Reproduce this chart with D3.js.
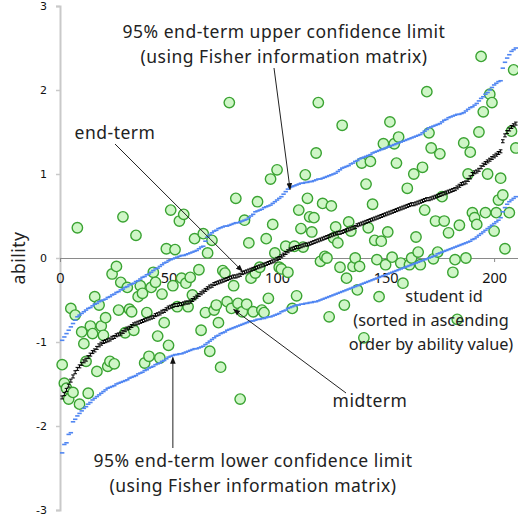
<!DOCTYPE html>
<html>
<head>
<meta charset="utf-8">
<script src="https://cdn.jsdelivr.net/npm/d3@7"></script>
<style>
  html, body { margin: 0; padding: 0; background: #fff; }
  svg { display: block; }
  .ann { font-family: "Noto Sans", "Open Sans", sans-serif; font-size: 17.5px; letter-spacing: 0.5px; fill: #222; }
  .xtitle { font-family: "Noto Sans", "Open Sans", sans-serif; font-size: 16.3px; fill: #222; }
</style>
</head>
<body>
<svg id="chart" width="518" height="524"></svg>
<script>
// Ability estimates per student, students sorted by end-term ability (id 1..210)
const endterm = [
  -1.66,-1.62,-1.57,-1.52,-1.46,-1.41,-1.36,-1.32,-1.29,-1.26,
  -1.23,-1.21,-1.18,-1.15,-1.12,-1.10,-1.07,-1.04,-1.02,-1.00,
  -0.99,-0.98,-0.97,-0.95,-0.94,-0.92,-0.91,-0.90,-0.88,-0.86,
  -0.84,-0.83,-0.81,-0.79,-0.78,-0.77,-0.76,-0.75,-0.74,-0.73,
  -0.72,-0.71,-0.70,-0.68,-0.67,-0.66,-0.64,-0.63,-0.61,-0.59,
  -0.58,-0.57,-0.56,-0.56,-0.55,-0.55,-0.54,-0.53,-0.53,-0.52,
  -0.50,-0.48,-0.46,-0.44,-0.42,-0.40,-0.38,-0.36,-0.34,-0.33,
  -0.31,-0.30,-0.29,-0.28,-0.27,-0.26,-0.25,-0.24,-0.23,-0.22,
  -0.22,-0.21,-0.20,-0.18,-0.17,-0.16,-0.15,-0.14,-0.13,-0.12,
  -0.11,-0.10,-0.09,-0.08,-0.07,-0.06,-0.05,-0.04,-0.03,-0.01,
  0.00,0.02,0.04,0.06,0.08,0.10,0.11,0.12,0.13,0.13,
  0.14,0.15,0.16,0.16,0.17,0.18,0.19,0.20,0.21,0.22,
  0.23,0.24,0.25,0.26,0.27,0.28,0.29,0.30,0.30,0.31,
  0.32,0.33,0.34,0.35,0.36,0.37,0.39,0.40,0.41,0.42,
  0.43,0.44,0.45,0.46,0.47,0.48,0.49,0.50,0.51,0.52,
  0.53,0.54,0.55,0.56,0.57,0.58,0.59,0.60,0.61,0.62,
  0.63,0.64,0.64,0.65,0.66,0.67,0.68,0.69,0.70,0.70,
  0.71,0.72,0.73,0.74,0.75,0.76,0.77,0.78,0.79,0.80,
  0.81,0.82,0.84,0.86,0.88,0.89,0.90,0.93,0.96,1.00,
  1.02,1.03,1.05,1.08,1.11,1.13,1.15,1.17,1.19,1.21,
  1.23,1.25,1.27,1.39,1.46,1.50,1.53,1.56,1.58,1.60
];

// 95% upper confidence limit of the end-term estimate (Fisher information)
const upper = [
  -0.98,-0.94,-0.90,-0.86,-0.82,-0.78,-0.74,-0.70,-0.68,-0.66,
  -0.64,-0.62,-0.60,-0.59,-0.57,-0.55,-0.54,-0.52,-0.51,-0.50,
  -0.49,-0.47,-0.46,-0.44,-0.43,-0.41,-0.40,-0.38,-0.37,-0.35,
  -0.34,-0.32,-0.31,-0.30,-0.28,-0.27,-0.25,-0.23,-0.22,-0.20,
  -0.19,-0.17,-0.15,-0.13,-0.12,-0.10,-0.08,-0.06,-0.05,-0.03,
  -0.02,-0.01,0.00,0.01,0.02,0.03,0.03,0.04,0.05,0.06,
  0.07,0.08,0.09,0.11,0.13,0.14,0.20,0.25,0.28,0.30,
  0.32,0.33,0.35,0.36,0.37,0.38,0.38,0.39,0.40,0.41,
  0.42,0.42,0.43,0.44,0.45,0.46,0.48,0.50,0.52,0.55,
  0.56,0.57,0.58,0.60,0.61,0.62,0.63,0.65,0.67,0.69,
  0.71,0.73,0.76,0.79,0.82,0.84,0.85,0.86,0.87,0.88,
  0.89,0.89,0.90,0.90,0.91,0.91,0.92,0.93,0.94,0.94,
  0.95,0.96,0.97,0.98,0.99,1.00,1.01,1.03,1.05,1.07,
  1.08,1.09,1.10,1.12,1.13,1.15,1.16,1.18,1.19,1.20,
  1.21,1.22,1.23,1.25,1.26,1.27,1.28,1.29,1.30,1.31,
  1.32,1.33,1.34,1.35,1.36,1.37,1.38,1.39,1.40,1.41,
  1.42,1.43,1.44,1.45,1.46,1.47,1.49,1.51,1.53,1.55,
  1.56,1.57,1.58,1.59,1.60,1.62,1.64,1.65,1.67,1.68,
  1.69,1.70,1.71,1.71,1.72,1.73,1.75,1.77,1.79,1.80,
  1.82,1.84,1.87,1.90,1.92,1.95,1.97,2.00,2.03,2.06,
  2.08,2.10,2.11,2.26,2.33,2.38,2.42,2.46,2.48,2.50
];

// 95% lower confidence limit of the end-term estimate (Fisher information)
const lower = [
  -2.32,-2.22,-2.20,-2.10,-2.08,-1.95,-1.92,-1.88,-1.85,-1.82,
  -1.79,-1.77,-1.74,-1.72,-1.69,-1.67,-1.65,-1.63,-1.61,-1.59,
  -1.57,-1.55,-1.54,-1.53,-1.52,-1.50,-1.49,-1.48,-1.47,-1.46,
  -1.45,-1.43,-1.42,-1.41,-1.40,-1.38,-1.37,-1.36,-1.34,-1.33,
  -1.31,-1.30,-1.29,-1.27,-1.26,-1.25,-1.23,-1.22,-1.20,-1.18,
  -1.17,-1.16,-1.15,-1.15,-1.14,-1.14,-1.13,-1.12,-1.11,-1.10,
  -1.09,-1.08,-1.08,-1.07,-1.06,-1.05,-1.03,-1.01,-0.99,-0.97,
  -0.95,-0.93,-0.92,-0.90,-0.89,-0.88,-0.86,-0.85,-0.84,-0.83,
  -0.82,-0.81,-0.80,-0.79,-0.78,-0.77,-0.76,-0.75,-0.75,-0.74,
  -0.73,-0.73,-0.72,-0.72,-0.71,-0.70,-0.70,-0.69,-0.68,-0.67,
  -0.66,-0.64,-0.63,-0.62,-0.60,-0.59,-0.58,-0.57,-0.56,-0.56,
  -0.55,-0.55,-0.54,-0.54,-0.53,-0.53,-0.52,-0.52,-0.51,-0.50,
  -0.49,-0.48,-0.47,-0.46,-0.45,-0.44,-0.43,-0.42,-0.41,-0.40,
  -0.39,-0.38,-0.37,-0.36,-0.35,-0.34,-0.33,-0.32,-0.31,-0.30,
  -0.29,-0.28,-0.27,-0.26,-0.25,-0.24,-0.23,-0.22,-0.21,-0.20,
  -0.19,-0.18,-0.17,-0.16,-0.15,-0.14,-0.13,-0.12,-0.11,-0.10,
  -0.09,-0.08,-0.07,-0.06,-0.05,-0.04,-0.03,-0.02,-0.01,0.00,
  0.01,0.02,0.03,0.05,0.06,0.07,0.08,0.09,0.10,0.11,
  0.12,0.13,0.14,0.15,0.16,0.17,0.18,0.19,0.20,0.22,
  0.23,0.25,0.27,0.29,0.31,0.33,0.35,0.37,0.39,0.41,
  0.43,0.45,0.48,0.55,0.60,0.64,0.67,0.69,0.71,0.73
];

// Midterm ability of the same students (null: no midterm estimate)
const midterm = [
  -1.27,-1.49,-1.55,-1.68,-0.60,-1.60,-0.68,0.36,-1.74,-0.88,
  -1.02,-1.23,-1.61,-0.81,-0.90,-0.46,-1.35,-0.56,-0.81,-0.92,
  -0.71,-1.29,-1.23,-0.19,-1.26,-0.10,-0.62,-0.29,0.49,-0.89,
  -0.35,-0.61,-0.64,-0.86,0.27,-0.46,-0.33,-0.42,-1.25,-0.65,
  -1.17,-0.35,-0.17,-0.29,-0.93,-1.19,-0.43,-0.77,0.11,-1.04,
  0.57,-0.33,0.10,-0.58,0.44,-0.24,0.52,-0.30,-0.58,-0.23,
  -0.44,0.23,null,-0.14,-0.86,0.29,-0.65,0.06,-1.11,0.21,
  -0.62,-0.56,-0.77,-1.30,-0.15,-0.18,-0.52,1.85,-0.60,-0.33,
  0.71,-0.54,-1.68,-0.64,0.45,-0.55,0.18,-0.24,-0.64,-0.18,
  0.67,-0.11,-0.62,-0.65,0.23,-0.48,0.94,0.40,0.06,1.05,
  -0.11,-0.13,null,0.14,-0.17,null,-0.60,0.14,-0.45,0.57,
  0.35,0.13,0.99,0.71,0.49,0.31,0.48,1.25,1.85,-0.04,
  0.65,0.02,0.00,-0.70,0.62,0.24,0.37,0.18,-0.11,1.58,
  -0.56,-0.24,0.43,0.32,-0.10,0.00,-0.38,-0.10,1.13,-0.95,
  0.88,0.36,1.15,0.64,0.21,-0.02,-0.46,0.20,1.36,-0.08,
  0.31,1.62,0.01,1.36,1.13,1.44,-0.06,-0.30,null,0.83,
  -0.08,0.00,1.00,0.25,0.07,-0.08,1.08,0.57,1.98,1.49,
  1.31,-0.01,0.44,0.07,1.24,0.73,0.44,null,0.30,null,
  -0.17,-0.02,-0.73,0.39,null,1.37,0.00,1.00,1.26,0.54,
  0.48,0.40,1.50,2.40,1.74,0.54,1.00,1.95,1.85,0.32,
  0.54,0.69,0.95,0.75,0.11,null,0.54,1.51,2.24,1.31
];

const yTicks = [-3, -2, -1, 0, 1, 2, 3];
const xTicks = [0, 50, 100, 150, 200];
const yTitle = "ability";
const xTitle = ["student id", "(sorted in ascending", "order by ability value)"];

const svg = d3.select("#chart");

const x = d3.scaleLinear().domain([0, 211]).range([60, 518]);
const y = d3.scaleLinear().domain([-3, 3]).range([510, 6]);

const students = endterm.map((v, i) => ({
  id: i + 1, end: v, up: upper[i], lo: lower[i], mid: midterm[i]
}));

// arrowhead
svg.append("defs").append("marker")
  .attr("id", "arrow").attr("viewBox", "0 0 10 10")
  .attr("refX", 9).attr("refY", 5)
  .attr("markerWidth", 7).attr("markerHeight", 7)
  .attr("markerUnits", "userSpaceOnUse")
  .attr("orient", "auto")
  .append("path").attr("d", "M0,1 L10,5 L0,9 Z").attr("fill", "#111");

// y axis
const yAxis = svg.append("g").attr("transform", `translate(${x(0)},0)`)
  .call(d3.axisLeft(y).tickValues(yTicks).tickSize(4).tickPadding(9).tickFormat(d3.format("d")));
yAxis.select(".domain").attr("stroke", "#c9c9c9").attr("stroke-width", 2);
yAxis.selectAll(".tick line").attr("stroke", "#c9c9c9").attr("stroke-width", 1.5);
yAxis.selectAll(".tick text")
  .attr("font-family", "'DejaVu Sans', sans-serif").attr("font-size", 11)
  .attr("fill", "#111").text(d => d < 0 ? "-" + Math.abs(d) : d);

// x axis along the zero line
const xAxis = svg.append("g").attr("transform", `translate(0,${y(0)})`)
  .call(d3.axisBottom(x).tickValues(xTicks).tickSize(4).tickPadding(11).tickSizeOuter(0));
xAxis.select(".domain").attr("stroke", "#8a8a8a").attr("stroke-width", 1);
xAxis.selectAll(".tick line").attr("stroke", "#8a8a8a");
xAxis.selectAll(".tick text")
  .attr("font-family", "'Noto Sans', sans-serif").attr("font-size", 14.5).attr("fill", "#111");

const plot = svg.append("g");

// midterm circles
plot.append("g").selectAll("circle")
  .data(students.filter(d => d.mid !== null))
  .join("circle")
  .attr("cx", d => x(d.id)).attr("cy", d => y(d.mid))
  .attr("r", 5.2)
  .attr("fill", "#cff6c7").attr("stroke", "#3aa332").attr("stroke-width", 1.4);

// end-term estimates
plot.append("g").selectAll("path")
  .data(students)
  .join("path")
  .attr("transform", d => `translate(${x(d.id)},${y(d.end)})`)
  .attr("d", "M-1.8,-1.5H1.8M-1.8,1.5H1.8M0,-1.5V1.5")
  .attr("stroke", "#000").attr("stroke-width", 1).attr("fill", "none");

// confidence limits
for (const key of ["up", "lo"]) {
  plot.append("g").selectAll("rect")
    .data(students)
    .join("rect")
    .attr("x", d => x(d.id) - 2.2).attr("y", d => y(d[key]) - 0.8)
    .attr("width", 4.4).attr("height", 1.6)
    .attr("fill", "#5086f2");
}

// axis titles
svg.append("text").attr("class", "ann")
  .attr("transform", `translate(25,${y(0)}) rotate(-90)`)
  .attr("text-anchor", "middle").text(yTitle);

svg.append("g").selectAll("text").data(xTitle).join("text")
  .attr("class", "xtitle").attr("text-anchor", "middle")
  .attr("x", (d, i) => i === 0 ? 444 : 431)
  .attr("y", (d, i) => 302 + i * 24)
  .text(d => d);

// annotations: label lines and arrows pointing at the series
function arrow(x1, y1, x2, y2) {
  svg.append("line").attr("x1", x1).attr("y1", y1).attr("x2", x2).attr("y2", y2)
    .attr("stroke", "#222").attr("stroke-width", 1).attr("marker-end", "url(#arrow)");
}
function label(lines, cx, y0, dy) {
  svg.append("g").selectAll("text").data(lines).join("text")
    .attr("class", "ann").attr("text-anchor", "middle")
    .attr("x", cx).attr("y", (d, i) => y0 + i * dy).text(d => d);
}

label(["95% end-term upper confidence limit", "(using Fisher information matrix)"], 284, 38, 25);
arrow(274, 68, x(106), y(upper[105]) + 2);

label(["end-term"], 115, 139, 0);
arrow(115, 144, x(84), y(endterm[83]) - 2);

label(["midterm"], 370, 407, 0);
arrow(346, 393, x(80), y(midterm[78]) + 1);

label(["95% end-term lower confidence limit", "(using Fisher information matrix)"], 253, 467, 25);
arrow(x(52), 448, x(52), y(lower[51]) + 2);
</script>
</body>
</html>
